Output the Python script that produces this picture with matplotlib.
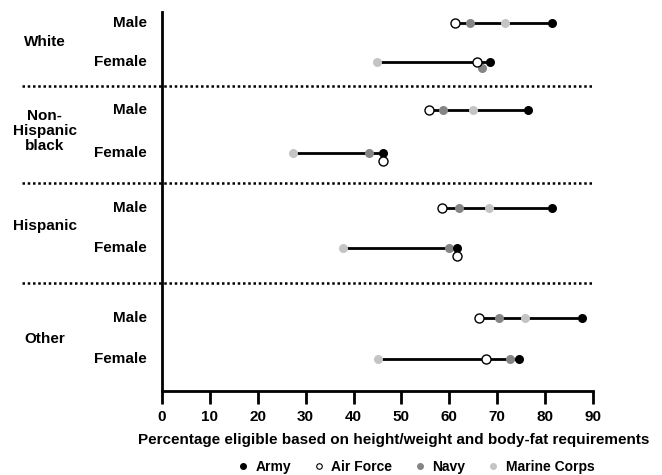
import numpy as np
import matplotlib.pyplot as plt
from matplotlib.lines import Line2D

plt.rcParams['font.family'] = ['Liberation Sans', 'DejaVu Sans']
plt.rcParams['font.weight'] = 'bold'

groups = ['White', 'Non-\nHispanic\nblack', 'Hispanic', 'Other']
sexes = ['Male', 'Female']

# percentages per row: White M/F, NH black M/F, Hispanic M/F, Other M/F
army      = [81.5, 68.5, 76.4, 46.2, 81.5, 61.7, 87.8, 74.5]
air_force = [61.2, 65.7, 55.8, 46.2, 58.5, 61.7, 66.1, 67.7]
navy      = [64.4, 66.8, 58.7, 43.2, 62.0, 59.9, 70.3, 72.6]
marine    = [71.7, 44.8, 64.9, 27.4, 68.3, 37.7, 75.9, 45.0]

# layout (vertical positions in pixel-like units, top = 12)
row_y   = [23, 62, 110, 153, 208, 248, 318, 359]
group_y = [42, 131, 226, 339]
sep_y   = [86, 183, 283]
# small downward nudges where markers overlap
nudge_navy = [0, 6, 0, 0, 0, 0, 0, 0]
nudge_af   = [0, 0, 0, 8, 0, 8, 0, 0]

fig = plt.figure(figsize=(6.62, 4.75), dpi=100)
ax = fig.add_axes([0.2447, 0.1768, 0.6511, 0.7979])
ax.set_xlim(0, 90)
ax.set_ylim(391, 12)

ms = 6.5
for i, y in enumerate(row_y):
    vals = [army[i], air_force[i], navy[i], marine[i]]
    ax.plot([min(vals), max(vals)], [y, y], color='black', lw=2, zorder=2)
    ax.plot(marine[i], y, 'o', color='#c4c4c4', ms=ms, mec='none', zorder=3)
    ax.plot(navy[i], y + nudge_navy[i], 'o', color='#858585', ms=ms, mec='none', zorder=4)
    ax.plot(army[i], y, 'o', color='black', ms=ms, mec='none', zorder=5)
    ax.plot(air_force[i], y + nudge_af[i], 'o', mfc='white', mec='black', mew=1, ms=ms, zorder=6)
    ax.text(-3.1, y, sexes[i % 2], ha='right', va='center', fontsize=11,
            fontweight='bold', clip_on=False)

for g, gy in zip(groups, group_y):
    ax.text(-24.5, gy, g, ha='center', va='center', fontsize=11, fontweight='bold',
            linespacing=1.05, clip_on=False)

for sy in sep_y:
    ax.plot([-29.2, 89.8], [sy, sy], color='black', lw=1.8, ls=(0, (1, 1.1)),
            clip_on=False, zorder=1)

for s in ['top', 'right']:
    ax.spines[s].set_visible(False)
ax.spines['left'].set_linewidth(2)
ax.spines['bottom'].set_linewidth(2)
ax.spines['bottom'].set_bounds(0, 90)
ax.set_yticks([])
ax.set_xticks(np.arange(0, 91, 10))
ax.tick_params(axis='x', direction='out', length=9, width=2, labelsize=11, pad=5)
for lbl in ax.get_xticklabels():
    lbl.set_fontweight('bold')

fig.text(393.5 / 662, 1 - 440 / 475,
         'Percentage eligible based on height/weight and body-fat requirements',
         ha='center', va='center', fontsize=11, fontweight='bold')

handles = [
    Line2D([0], [0], marker='o', ls='none', color='black', ms=4, label='Army'),
    Line2D([0], [0], marker='o', ls='none', mfc='white', mec='black', mew=0.8, ms=4, label='Air Force'),
    Line2D([0], [0], marker='o', ls='none', color='#858585', ms=4, label='Navy'),
    Line2D([0], [0], marker='o', ls='none', color='#c4c4c4', ms=4, label='Marine Corps'),
]
fig.legend(handles=handles, loc='center', bbox_to_anchor=(0.627, 0.017), ncol=4,
           frameon=False, handletextpad=0.4, columnspacing=1.5,
           handlelength=1.0, prop={'weight': 'bold', 'size': 10})

fig.savefig('out.png', dpi=100)
